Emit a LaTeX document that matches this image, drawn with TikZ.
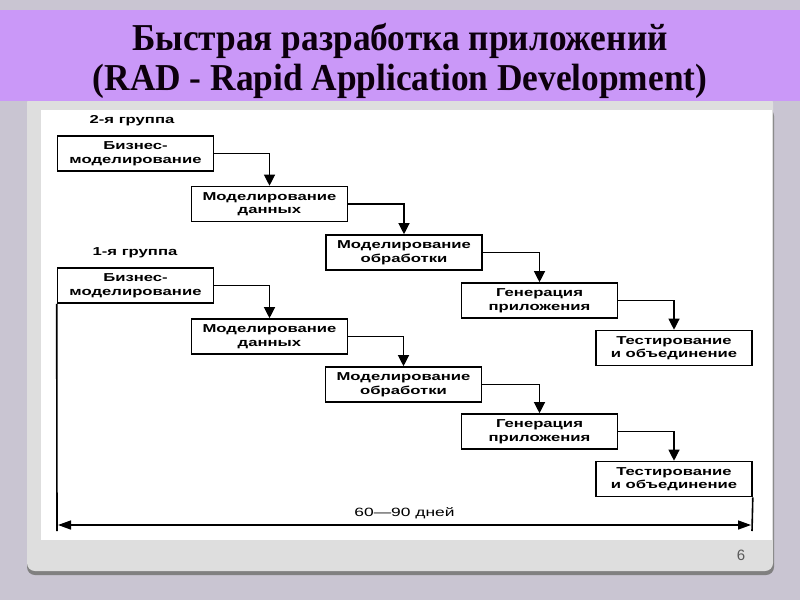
\documentclass[tikz,border=0pt]{standalone}
\usepackage{fontspec}
\setmainfont{Liberation Serif}
\newfontfamily\boxfont[FakeStretch=1.45]{Liberation Sans}
\newfontfamily\titlefont[FakeStretch=0.93]{Liberation Serif}
\newfontfamily\numfont{Liberation Sans}
\usetikzlibrary{arrows.meta}
\definecolor{slidebg}{RGB}{201,197,210}
\definecolor{cardgray}{RGB}{222,222,222}
\definecolor{titleband}{RGB}{202,152,248}
\definecolor{shadowgray}{RGB}{128,128,128}
\begin{document}
\begin{tikzpicture}[x=1pt,y=-1pt,
  stage/.style={draw,line width=1.6pt,fill=white,minimum width=156pt,minimum height=35pt,
    inner sep=1pt,align=center,font=\boxfont\bfseries\fontsize{11.5}{13.5}\selectfont},
  grouplabel/.style={font=\boxfont\bfseries\fontsize{11.5}{13.5}\selectfont},
  flow/.style={line width=1.2pt,-{Triangle[width=11pt,length=11pt]}},
  span/.style={line width=1.4pt,{Triangle[width=9pt,length=13pt]}-{Triangle[width=9pt,length=13pt]}}]
\useasboundingbox (0,0) rectangle (800,600);
% slide background
\fill[slidebg] (0,0) rectangle (800,600);
\fill[shadowgray,rounded corners=8pt] (27,108) rectangle (774,575);
\fill[cardgray,rounded corners=8pt] (27,95) rectangle (773,571);
\fill[white] (41,110) rectangle (772,540);
\fill[titleband] (0,10) rectangle (800,101);
\node[font=\titlefont\bfseries\fontsize{38}{40}\selectfont,align=center,text=black!90!violet] (title) at (400,61)
  {Быстрая разработка приложений\\(RAD - Rapid Application Development)};
\node[font=\numfont\fontsize{15}{16}\selectfont,text=black!65] (pagenum) at (741,555) {6};
% 2nd group
\node[grouplabel] (lab2) at (132,121) {2-я группа};
\node[stage] (B2) at (135.5,153.5) {Бизнес-\\моделирование};
\node[stage] (D2) at (269.5,204) {Моделирование\\данных};
\node[stage] (P2) at (404,252.5) {Моделирование\\обработки};
\node[stage] (G2) at (539.5,300.5) {Генерация\\приложения};
\node[stage] (T2) at (674,348) {Тестирование\\и объединение};
\draw[flow] (B2.east) -| (D2.north);
\draw[flow] (D2.east) -| (P2.north);
\draw[flow] (P2.east) -| (G2.north);
\draw[flow] (G2.east) -| (T2.north);
% 1st group
\node[grouplabel] (lab1) at (135,253) {1-я группа};
\node[stage] (B1) at (135.5,285.5) {Бизнес-\\моделирование};
\node[stage] (D1) at (269.5,336.5) {Моделирование\\данных};
\node[stage] (P1) at (403.5,384.5) {Моделирование\\обработки};
\node[stage] (G1) at (539.5,431.5) {Генерация\\приложения};
\node[stage] (T1) at (674,479) {Тестирование\\и объединение};
\draw[flow] (B1.east) -| (D1.north);
\draw[flow] (D1.east) -| (P1.north);
\draw[flow] (P1.east) -| (G1.north);
\draw[flow] (G1.east) -| (T1.north);
% duration
\coordinate (leftEnd) at (57,531);
\coordinate (rightEnd) at (752,531);
\coordinate (spanL) at (58,525);
\coordinate (spanR) at (751,525);
\draw[line width=1.6pt] (B1.south west) -- (leftEnd);
\draw[line width=1.6pt] (T1.south east) -- (rightEnd);
\draw[span] (spanL) -- (spanR) node[midway,above=2pt,font=\boxfont\fontsize{12}{14}\selectfont] {60—90 дней};
\end{tikzpicture}
\end{document}
